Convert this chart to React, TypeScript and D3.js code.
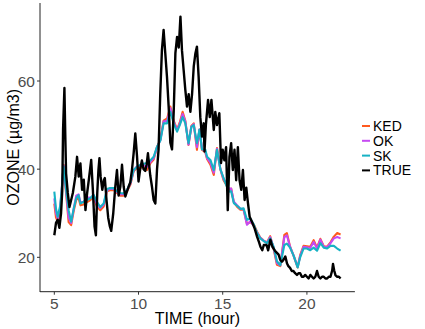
import React from "react"
import * as d3 from "d3"

// TRUE measurements (hour, ozone)
const trueHours = [
  5.0, 5.1, 5.2, 5.3, 5.4, 5.47, 5.52, 5.6, 5.65, 5.7, 5.8, 5.9, 6.0, 6.1, 6.25, 6.35, 6.45, 6.55, 6.65, 6.75,
  6.85, 6.95, 7.05, 7.19, 7.29, 7.39, 7.47, 7.55, 7.62, 7.68, 7.75, 7.85, 7.95, 8.0, 8.1, 8.2, 8.3, 8.38, 8.5, 8.62,
  8.72, 8.82, 8.92, 9.02, 9.12, 9.22, 9.32, 9.41, 9.51, 9.61, 9.71, 9.81, 9.91, 10.0, 10.1, 10.2, 10.3, 10.4, 10.48, 10.56,
  10.63, 10.7, 10.8, 10.9, 11.0, 11.1, 11.19, 11.29, 11.39, 11.49, 11.59, 11.69, 11.79, 11.89, 11.99, 12.09, 12.19, 12.29, 12.39, 12.49,
  12.58, 12.68, 12.78, 12.88, 12.98, 13.08, 13.18, 13.28, 13.38, 13.47, 13.57, 13.67, 13.77, 13.87, 13.92, 14.0, 14.13, 14.23, 14.33, 14.47,
  14.56, 14.66, 14.8, 14.9, 15.0, 15.1, 15.2, 15.3, 15.4, 15.5, 15.6, 15.7, 15.8, 15.9, 16.0, 16.1, 16.2, 16.3, 16.4, 16.5,
  16.6, 16.74, 16.9, 17.04, 17.15, 17.24, 17.35, 17.44, 17.6, 17.7, 17.83, 17.95, 18.1, 18.22, 18.32, 18.42, 18.52, 18.62, 18.72, 18.82,
  18.9, 19.0, 19.1, 19.2, 19.3, 19.41, 19.5, 19.6, 19.7, 19.8, 19.9, 20.0, 20.1, 20.2, 20.3, 20.4, 20.5, 20.6, 20.7, 20.8,
  20.9, 21.0, 21.1, 21.2, 21.3, 21.4, 21.5, 21.55, 21.62, 21.7, 21.8, 21.9, 22.0,
]
const trueOzone = [
  25, 27.8, 28.5, 26.7, 30, 35, 49, 58.4, 48, 39, 34.6, 31.4, 33, 34.6, 38.3, 42.8, 38.3, 41.3, 35.3, 37.6,
  30.7, 34.6, 37.6, 42.1, 35.3, 27, 25, 34.6, 39.8, 42.5, 38.3, 35.3, 37.6, 38, 33, 29, 27, 26, 30, 36,
  39.8, 34, 36, 41, 36, 33.8, 35, 36, 37, 39.8, 43.6, 48.1, 43, 37.2, 40, 42, 40, 39.6, 41, 43.6,
  41, 38.5, 36, 33, 32.2, 40, 44.4, 57, 67, 71.6, 66.3, 61, 54.2, 46, 44.5, 53, 66.3, 70, 67.6, 74.6,
  67, 62.5, 58, 54.2, 57, 53, 57, 63.3, 66.3, 67.8, 61, 51.8, 47.4, 50.4, 44, 50, 55.7, 51.8, 55.7, 48.9,
  53, 50, 52.7, 41.4, 44.4, 42, 45, 30.7, 42.8, 45.9, 39.8, 44.4, 37.5, 45, 37.5, 35.3, 39.8, 33, 35.8, 32.3,
  29.2, 28, 26.5, 24.7, 23.5, 22.4, 21.6, 22.8, 22.8, 21.6, 24, 22.4, 21.5, 21, 20.6, 19.4, 19, 19.5, 20.2, 18.6,
  18, 17.6, 16.9, 16.9, 16.4, 16, 16.4, 16.4, 15.6, 15.6, 16, 15.6, 15.2, 16, 15.6, 15.2, 15.6, 16.9, 15.6, 15.2,
  15.6, 15.6, 15.2, 15.2, 15.6, 15.6, 17, 18.5, 17, 15.9, 15.6, 15.6, 15.2,
]

// model predictions share one time grid
const modelHours = [
  5.0, 5.1, 5.2, 5.35, 5.45, 5.55, 5.7, 5.85, 6.0, 6.15, 6.3, 6.44, 6.55, 6.74, 6.94, 7.14, 7.33, 7.53, 7.73, 7.93,
  8.13, 8.3, 8.52, 8.72, 8.92, 9.12, 9.32, 9.52, 9.71, 9.9, 10.1, 10.3, 10.5, 10.7, 10.9, 11.1, 11.3, 11.49, 11.7, 11.89,
  12.09, 12.29, 12.45, 12.62, 12.78, 12.97, 13.14, 13.28, 13.47, 13.62, 13.77, 13.97, 14.07, 14.27, 14.47, 14.66, 14.86, 15.05, 15.2, 15.36,
  15.5, 15.66, 15.85, 16.05, 16.24, 16.44, 16.64, 16.84, 17.04, 17.23, 17.43, 17.63, 17.82, 18.02, 18.22, 18.42, 18.66, 18.81, 19.0, 19.21,
  19.45, 19.6, 19.8, 20.0, 20.2, 20.4, 20.6, 20.8, 21.0, 21.2, 21.4, 21.6, 21.8, 22.0,
]
const kedOzone = [
  32.2, 29, 28.2, 30.8, 35.5, 41, 34.5, 28, 27.3, 30.5, 33, 33.5, 31.8, 32, 32.5, 33, 33.6, 31.5, 30.7, 31.5,
  35, 35.2, 35.3, 34.6, 34, 34, 35, 36.5, 39.5, 40.3, 40.3, 40.5, 39.8, 41.3, 42.2, 45, 46.8, 51, 51.5, 54.2,
  51, 49, 50.6, 53, 51, 45.5, 49.8, 50.4, 44.4, 49, 44.4, 43.8, 42.3, 41, 38.7, 44.8, 40, 37.5, 36.5, 35.3,
  35.6, 32.5, 31.5, 30.8, 30.8, 27.6, 28, 27.5, 25.8, 24.5, 23.8, 23.4, 24.8, 22, 18.3, 18, 25.1, 25.5, 22.4, 20.4,
  17.7, 20.5, 22.6, 22.5, 22.4, 23.9, 22.2, 24.2, 22.5, 22.4, 23.4, 24.7, 25.5, 25.2,
]
const okOzone = [
  33.4, 30, 28.8, 31.2, 35.8, 40.8, 35, 29, 27.8, 31, 34, 34.3, 32.5, 32.6, 33.6, 33.5, 34, 32, 31.2, 32,
  35.3, 35.5, 35.5, 34.8, 34.3, 34.3, 35.2, 36.8, 39.7, 40.6, 40.8, 41, 40.5, 41.6, 42.5, 45, 46.6, 50.8, 51, 53.8,
  50.8, 48.8, 50.3, 52.5, 50.8, 45.6, 49.7, 50.2, 45, 49, 44.6, 44, 42.5, 41.5, 39.2, 44.6, 40, 37.8, 36.8, 35.6,
  35.6, 32.6, 31.8, 31, 30.9, 27.4, 28.2, 27.2, 25.6, 24.4, 23.8, 23.3, 24.6, 22.2, 18.7, 18.2, 24.6, 25, 22.4, 20.4,
  17.8, 20.3, 22.4, 22.3, 22.1, 23.5, 22, 24, 22.4, 22.3, 23.2, 24.3, 24.6, 24.3,
]
const skOzone = [
  34.9, 31, 29.2, 31.7, 36, 40.6, 35.3, 30.7, 28.1, 31, 33.4, 34.1, 32.2, 32.6, 33, 33.4, 34.2, 32.6, 31.4, 32.2,
  35.5, 35.7, 35.7, 35, 34.6, 34.5, 35.3, 37, 39.8, 40.5, 41, 41.2, 41.4, 42, 42.8, 45.1, 46.5, 50.4, 50.4, 53,
  50.4, 48.5, 50, 51.8, 50.4, 45.9, 49.6, 50, 45.9, 49, 44.5, 44.4, 42.8, 42.1, 39.8, 44.4, 40, 38, 36.5, 34.9,
  35, 32.3, 31.7, 31, 31.1, 28.5, 28.8, 27.5, 25.5, 24.3, 23.7, 23.2, 24.3, 22.4, 19.1, 18.2, 22.8, 23.1, 22.2, 20.4,
  17.7, 20, 22, 22, 21.6, 22.2, 21.5, 23.2, 22.2, 22, 22.6, 22.6, 22, 21.5,
]

const seriesNames = ["KED", "OK", "SK", "TRUE"]
const seriesColors = ["#FF5A1F", "#C64AF2", "#17B2C4", "#000000"]
const xTicks = [5, 10, 15, 20]
const yTicks = [20, 40, 60]

const W = 425
const H = 329
const font = "'Liberation Sans', Arial, sans-serif"

export default function App() {
  // ggplot style 5% expansion around the data range
  const x = d3.scaleLinear().domain([4.15, 22.85]).range([40, 354.9])
  const y = d3.scaleLinear().domain([12.2, 77.7]).range([291.7, 3])

  const line = d3.line<[number, number]>()
    .x(d => x(d[0]))
    .y(d => y(d[1]))

  const series = [
    modelHours.map((h, i) => [h, kedOzone[i]] as [number, number]),
    modelHours.map((h, i) => [h, okOzone[i]] as [number, number]),
    modelHours.map((h, i) => [h, skOzone[i]] as [number, number]),
    trueHours.map((h, i) => [h, trueOzone[i]] as [number, number]),
  ]

  const [x0, x1] = x.range()
  const [y0, y1] = y.range()

  return (
    <svg width={W} height={H} style={{ position: "fixed", left: 0, top: 0, background: "#fff" }} fontFamily={font}>
      {series.map((s, i) => (
        <path key={seriesNames[i]} d={line(s) ?? ""} fill="none" stroke={seriesColors[i]}
          strokeWidth={i === 3 ? 2.4 : 2.1} strokeLinejoin="round" />
      ))}

      {/* axes */}
      <line x1={x0} x2={x0} y1={y1} y2={y0 + 0.3} stroke="#222" strokeWidth={1} />
      <line x1={x0} x2={x1} y1={y0} y2={y0} stroke="#222" strokeWidth={1} />
      {yTicks.map(t => (
        <g key={t}>
          <line x1={x0 - 3} x2={x0} y1={y(t)} y2={y(t)} stroke="#333" />
          <text x={x0 - 5} y={y(t)} dy="0.36em" textAnchor="end" fontSize={15.5} fill="#4D4D4D">{t}</text>
        </g>
      ))}
      {xTicks.map(t => (
        <g key={t}>
          <line x1={x(t)} x2={x(t)} y1={y0} y2={y0 + 3} stroke="#333" />
          <text x={x(t)} y={y0 + 17} textAnchor="middle" fontSize={15.5} fill="#4D4D4D">{t}</text>
        </g>
      ))}
      <text x={(x0 + x1) / 2} y={324} textAnchor="middle" fontSize={16} fill="#000">TIME (hour)</text>
      <text transform={`translate(19,${(y0 + y1) / 2}) rotate(-90)`} textAnchor="middle" fontSize={16} fill="#000">
        OZONE (µg/m3)
      </text>

      {/* legend */}
      {seriesNames.map((n, i) => (
        <g key={n} transform={`translate(362,${126 + i * 14.8})`}>
          <line x1={0} x2={8} y1={0} y2={0} stroke={seriesColors[i]} strokeWidth={2} />
          <text x={11} y={0} dy="0.36em" fontSize={14} fill="#000">{n}</text>
        </g>
      ))}
    </svg>
  )
}
